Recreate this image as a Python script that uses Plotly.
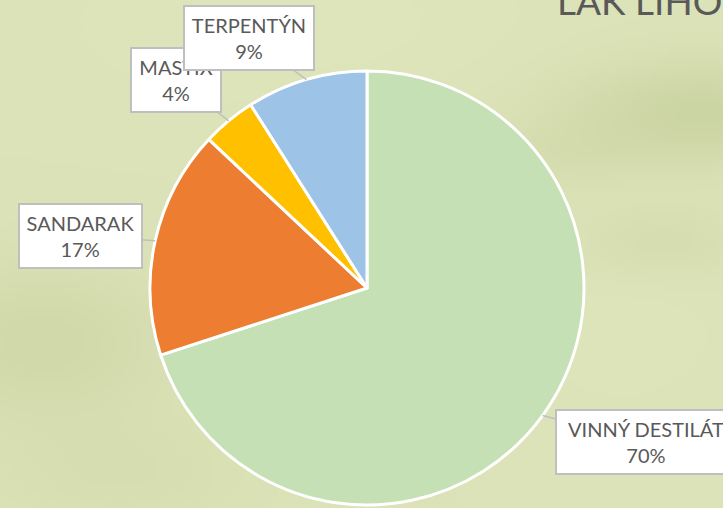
import base64, struct, zlib
import numpy as np
import plotly.graph_objects as go

# ---- data ----
labels = ["VINNÝ DESTILÁT", "SANDARAK", "MASTIX", "TERPENTÝN"]
values = [70, 17, 4, 9]
colors = ["#C5E0B4", "#ED7D31", "#FFC000", "#9DC3E6"]
title_text = "LAK LIHOVÝ"

W, H = 723, 508

# ---- textured background (smooth blobs) ----
def make_bg():
    w, h = 145, 102
    sx, sy = W / w, H / h
    yy, xx = np.mgrid[0:h, 0:w].astype(float)
    xx = xx * sx
    yy = yy * sy
    base = np.array([220, 227, 184], float)
    img = np.zeros((h, w, 3)) + base
    blobs = [
        (700, 110, 90, 35, -16),
        (560, 150, 60, 25, -5),
        (40, 340, 90, 55, -11),
        (120, 470, 90, 40, -5),
        (660, 240, 60, 25, -6),
        (300, 20, 160, 60, 3),
        (620, 330, 80, 60, 2),
    ]
    for bx_, by_, sgx, sgy, d in blobs:
        g = np.exp(-(((xx - bx_) / sgx) ** 2 + ((yy - by_) / sgy) ** 2) / 2)
        img += d * g[..., None] * np.array([1.0, 0.9, 1.25])
    img = np.clip(img, 0, 255).astype(np.uint8)
    raw = b"".join(b"\x00" + img[r].tobytes() for r in range(h))

    def chunk(t, d):
        c = struct.pack(">I", len(d)) + t + d
        return c + struct.pack(">I", zlib.crc32(t + d) & 0xFFFFFFFF)

    png = b"\x89PNG\r\n\x1a\n" + chunk(b"IHDR", struct.pack(">IIBBBBB", w, h, 8, 2, 0, 0, 0))
    png += chunk(b"IDAT", zlib.compress(raw, 9)) + chunk(b"IEND", b"")
    return "data:image/png;base64," + base64.b64encode(png).decode()

# ---- pie geometry (pixels) ----
cx, cy, r = 367, 288, 217
dom_x = [(cx - r) / W, (cx + r) / W]
dom_y = [1 - (cy + r) / H, 1 - (cy - r) / H]

fig = go.Figure(go.Pie(
    labels=labels, values=values, sort=False, direction="clockwise", rotation=0,
    marker=dict(colors=colors, line=dict(color="white", width=3)),
    textinfo="none", hoverinfo="skip", showlegend=False,
    domain=dict(x=dom_x, y=dom_y),
))

# label boxes: center (px) and size
boxes = {
    "VINNÝ DESTILÁT": (646, 442, 182, 66),
    "SANDARAK": (80, 236, 125, 66),
    "MASTIX": (176, 80, 92, 66),
    "TERPENTÝN": (249, 38, 132, 66),
}

total = sum(values)
cum = 0
tips = {}
for lab, v in zip(labels, values):
    mid = (cum + v / 2) / total * 2 * np.pi
    cum += v
    tips[lab] = (cx + r * np.sin(mid), cy - r * np.cos(mid), v / total)

annotations = []
for lab in ["VINNÝ DESTILÁT", "SANDARAK", "MASTIX", "TERPENTÝN"]:
    tx, ty, frac = tips[lab]
    bx, by, bw, bh = boxes[lab]
    annotations.append(dict(
        x=tx / W, y=1 - ty / H, xref="paper", yref="paper",
        ax=bx - tx, ay=by - ty, axref="pixel", ayref="pixel",
        text=f"{lab}<br>{round(frac * 100)}%",
        showarrow=True, arrowhead=0, arrowwidth=1.5, arrowcolor="#BFBFBF", standoff=0,
        font=dict(family="Lato, 'Open Sans', sans-serif", size=20, color="#595959"),
        bgcolor="white", bordercolor="#BFBFBF", borderwidth=2, borderpad=0,
        width=bw - 4, height=bh - 4, align="center", valign="middle",
    ))

annotations.append(dict(
    x=555 / W, y=1 + 0 / H, xref="paper", yref="paper", xanchor="left", yanchor="middle",
    text=title_text, showarrow=False,
    font=dict(family="Lato, 'Open Sans', sans-serif", size=37, color="#595959"),
))

fig.update_layout(
    width=W, height=H, margin=dict(l=0, r=0, t=0, b=0),
    paper_bgcolor="#DCE3B8", plot_bgcolor="#DCE3B8",
    annotations=annotations,
    images=[dict(source=make_bg(), xref="paper", yref="paper", x=0, y=1,
                 sizex=1, sizey=1, sizing="stretch", layer="below",
                 xanchor="left", yanchor="top")],
)

fig.write_html(
    "out.html",
    config={"displayModeBar": False},
    post_script="document.body.style.margin='0';document.body.style.padding='0';"
                "document.body.style.overflow='hidden';",
)
